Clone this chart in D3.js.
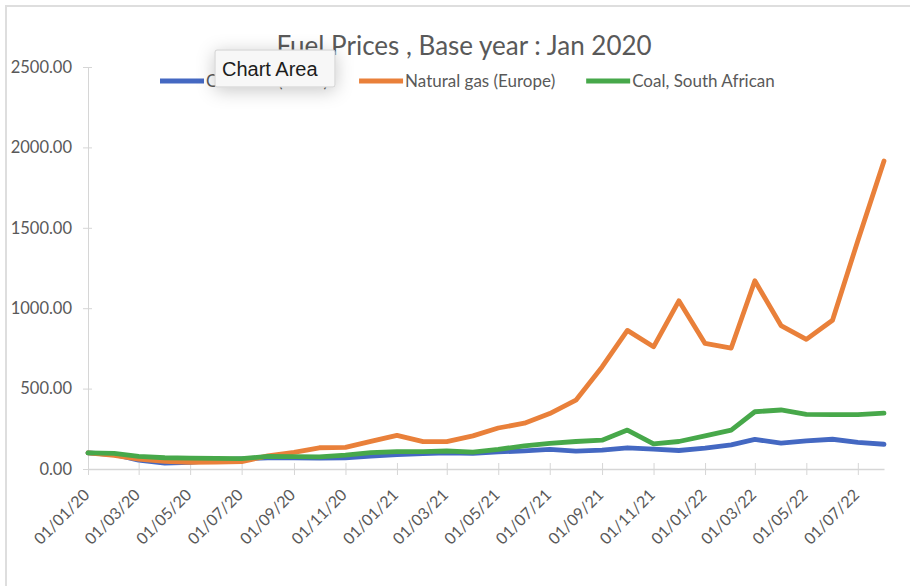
<!DOCTYPE html>
<html>
<head>
<meta charset="utf-8">
<script src="https://cdn.jsdelivr.net/npm/d3@7/dist/d3.min.js"></script>
<style>
  html, body { margin: 0; padding: 0; background: #ffffff; }
  svg { display: block; }
</style>
</head>
<body>
<svg id="chart" width="910" height="586"></svg>
<script>
// Monthly observations, Jan 2020 = 100
const months = [
  "2020-01","2020-02","2020-03","2020-04","2020-05","2020-06","2020-07","2020-08",
  "2020-09","2020-10","2020-11","2020-12","2021-01","2021-02","2021-03","2021-04",
  "2021-05","2021-06","2021-07","2021-08","2021-09","2021-10","2021-11","2021-12",
  "2022-01","2022-02","2022-03","2022-04","2022-05","2022-06","2022-07","2022-08"
];
const crudeOil = [100, 90, 55, 36, 42, 56, 63, 70, 70, 68, 70, 80, 90, 96, 101, 98,
                  106, 113, 122, 111, 117, 132, 124, 115, 130, 150, 184, 161, 175, 185, 166, 154];
const naturalGas = [100, 85, 62, 48, 42, 43, 46, 82, 104, 132, 134, 172, 209, 170, 170, 206,
                    255, 285, 345, 428, 635, 862, 760, 1046, 781, 752, 1171, 892, 806, 925, 1420, 1915];
const coal = [100, 97, 78, 70, 68, 66, 65, 78, 77, 75, 86, 102, 108, 108, 112, 105,
              122, 144, 160, 171, 179, 242, 156, 171, 206, 242, 356, 367, 340, 338, 338, 348];

const seriesNames = ["Crude oil (Brent)", "Natural gas (Europe)", "Coal, South African"];
const seriesColors = ["#4468c2", "#e9803a", "#47a84a"];
const yTicks = [0, 500, 1000, 1500, 2000, 2500];
const xTickDates = ["2020-01","2020-03","2020-05","2020-07","2020-09","2020-11",
                    "2021-01","2021-03","2021-05","2021-07","2021-09","2021-11",
                    "2022-01","2022-03","2022-05","2022-07"];
const titleText = "Fuel Prices , Base year : Jan 2020";

const parseMonth = d3.utcParse("%Y-%m");
const dates = months.map(parseMonth);
const series = [crudeOil, naturalGas, coal].map((vals, i) => ({
  name: seriesNames[i],
  color: seriesColors[i],
  points: vals.map((v, j) => ({ date: dates[j], value: v }))
}));

const svg = d3.select("#chart");
const W = 910, H = 586;
const plot = { left: 88, right: 884, top: 67, bottom: 469 };

const x = d3.scaleUtc()
  .domain([dates[0], dates[dates.length - 1]])
  .range([plot.left, plot.right]);
const y = d3.scaleLinear()
  .domain([0, 2500])
  .range([plot.bottom, plot.top]);

const textGray = "#595959";
const axisGray = "#d6d6d6";
const font = "Lato, 'Open Sans', sans-serif";

// chart frame
svg.append("rect").attr("width", W).attr("height", H).attr("fill", "#ffffff");
svg.append("path")
  .attr("d", `M6,${H} L6,6 L${W},6`)
  .attr("fill", "none")
  .attr("stroke", "#dedede")
  .attr("stroke-width", 2);

// title
svg.append("text")
  .attr("x", 464).attr("y", 55)
  .attr("text-anchor", "middle")
  .attr("font-family", font)
  .attr("font-size", 26)
  .attr("fill", textGray)
  .text(titleText);

// y axis
const yAxis = d3.axisLeft(y)
  .tickValues(yTicks)
  .tickFormat(d3.format(".2f"))
  .tickSizeInner(5)
  .tickSizeOuter(0)
  .tickPadding(11);
const gy = svg.append("g")
  .attr("transform", `translate(${plot.left},0)`)
  .call(yAxis);
gy.select(".domain").attr("stroke", axisGray);
gy.selectAll(".tick line").attr("stroke", axisGray).attr("x2", 4).attr("x1", -5);
gy.selectAll(".tick text")
  .attr("font-family", font).attr("font-size", 16.5).attr("fill", textGray);

// x axis
const xAxis = d3.axisBottom(x)
  .tickValues(xTickDates.map(parseMonth))
  .tickFormat(d3.utcFormat("%d/%m/%y"))
  .tickSizeOuter(0);
const gx = svg.append("g")
  .attr("transform", `translate(0,${plot.bottom})`)
  .call(xAxis);
gx.select(".domain").attr("stroke", axisGray).attr("stroke-width", 1.5);
gx.selectAll(".tick line").attr("stroke", axisGray).attr("y1", -6).attr("y2", 6);
gx.selectAll(".tick text")
  .attr("font-family", font).attr("font-size", 16).attr("fill", textGray)
  .attr("text-anchor", "end")
  .attr("x", null).attr("y", null).attr("dy", "0.35em")
  .attr("transform", "translate(-2,23) rotate(-45)");

// series lines
const line = d3.line()
  .x(d => x(d.date))
  .y(d => y(d.value));
svg.append("g")
  .selectAll("path")
  .data(series)
  .join("path")
  .attr("d", d => line(d.points))
  .attr("fill", "none")
  .attr("stroke", d => d.color)
  .attr("stroke-width", 4.8)
  .attr("stroke-linejoin", "round")
  .attr("stroke-linecap", "round");

// legend
const legend = svg.append("g").attr("transform", "translate(160,81)");
let lx = 0;
series.forEach(s => {
  const item = legend.append("g").attr("transform", `translate(${lx},0)`);
  item.append("line")
    .attr("x1", 0).attr("x2", 44).attr("y1", 0).attr("y2", 0)
    .attr("stroke", s.color).attr("stroke-width", 4.8);
  const t = item.append("text")
    .attr("x", 46).attr("y", 6)
    .attr("font-family", font).attr("font-size", 17)
    .attr("fill", textGray)
    .text(s.name);
  lx += 46 + t.node().getComputedTextLength() + 31;
});

// hover tooltip over the chart area
const defs = svg.append("defs");
const shadow = defs.append("filter").attr("id", "tipShadow")
  .attr("x", "-60%").attr("y", "-120%").attr("width", "220%").attr("height", "340%");
shadow.append("feDropShadow")
  .attr("dx", 0).attr("dy", 3).attr("stdDeviation", 9)
  .attr("flood-color", "#000").attr("flood-opacity", 0.22);
const tip = svg.append("g").attr("transform", "translate(215,50)");
tip.append("rect")
  .attr("width", 120).attr("height", 37).attr("rx", 2)
  .attr("fill", "#f7f7f7").attr("stroke", "#cfcfcf").attr("stroke-width", 1)
  .attr("filter", "url(#tipShadow)");
tip.append("text")
  .attr("x", 7).attr("y", 25.5)
  .attr("font-family", "'Liberation Sans', Arial, sans-serif")
  .attr("font-size", 20).attr("fill", "#1c1c1c")
  .text("Chart Area");
</script>
</body>
</html>
